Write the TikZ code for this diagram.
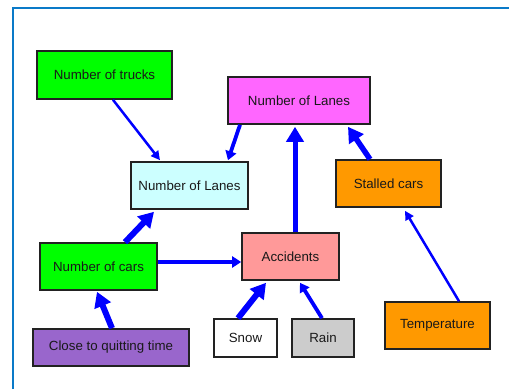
\documentclass[tikz,border=0pt]{standalone}
\usepackage{fontspec}
\setmainfont{Liberation Sans}
\usetikzlibrary{arrows.meta}
\definecolor{framec}{RGB}{10,122,200}
\definecolor{boxline}{RGB}{34,34,34}
\definecolor{cgreen}{RGB}{0,255,0}
\definecolor{cmag}{RGB}{255,102,255}
\definecolor{ccyan}{RGB}{204,255,255}
\definecolor{corange}{RGB}{255,153,0}
\definecolor{cpink}{RGB}{255,153,153}
\definecolor{cpurple}{RGB}{153,102,204}
\definecolor{cgray}{RGB}{204,204,204}
\definecolor{cblue}{RGB}{0,0,255}
\tikzset{
  box/.style={draw=boxline, line width=1.6pt, inner sep=0pt, align=center,
    font=\fontsize{13.3}{16}\selectfont, text=black!90},
  thinarr/.style={draw=cblue, line width=2.5pt, -{Triangle[length=9pt,width=9pt]}},
  medarr/.style={draw=cblue, line width=3.8pt, -{Triangle[length=9pt,width=11pt]}},
  thickarr/.style={draw=cblue, line width=6pt, -{Triangle[length=15pt,width=17pt]}},
}
\begin{document}
\begin{tikzpicture}[x=1pt,y=1pt]
\useasboundingbox (0,0) rectangle (509,389);
\draw[framec, line width=2pt] (13,0) -- (13,381) -- (509,381);

\node[box, fill=cgreen, minimum width=135pt, minimum height=48pt] (trucks) at (104.5,314) {Number of trucks};
\node[box, fill=cmag, minimum width=142pt, minimum height=47pt] (top) at (299,288.5) {Number of Lanes};
\node[box, fill=ccyan, minimum width=117pt, minimum height=47pt] (mid) at (189.5,203.5) {Number of Lanes};
\node[box, fill=corange, minimum width=105pt, minimum height=47pt] (stalled) at (388.5,205.5) {Stalled cars};
\node[box, fill=cgreen, minimum width=117pt, minimum height=47pt] (cars) at (98.5,122.5) {Number of cars};
\node[box, fill=cpink, minimum width=97pt, minimum height=47pt] (acc) at (290.5,132.5) {Accidents};
\node[box, fill=cpurple, minimum width=156pt, minimum height=37pt] (close) at (111,41.5) {Close to quitting time};
\node[box, fill=white, minimum width=63pt, minimum height=38pt] (snow) at (245.5,51) {Snow};
\node[box, fill=cgray, minimum width=62pt, minimum height=38pt] (rain) at (323,51) {Rain};
\node[box, fill=corange, minimum width=105pt, minimum height=47pt] (temp) at (437.5,63.5) {Temperature};

\draw[thinarr] ([xshift=8.5pt]trucks.south) -- ([xshift=-29.5pt,yshift=1pt]mid.north);
\draw[medarr] ([xshift=-59pt]top.south) -- ([xshift=38.5pt,yshift=1pt]mid.north);
\draw[thickarr] ([xshift=26.5pt]cars.north) -- ([xshift=-35.5pt,yshift=-2pt]mid.south);
\draw[medarr] ([yshift=4.5pt]cars.east) -- ([yshift=-5.5pt]acc.west);
\draw[thickarr, line width=5pt] ([xshift=4.5pt]acc.north) -- ([xshift=-4pt,yshift=-2pt]top.south);
\draw[thickarr, line width=5.5pt] ([xshift=-18.5pt]stalled.north) -- ([xshift=49pt,yshift=-2pt]top.south);
\draw[thinarr] ([xshift=21.5pt]temp.north) -- ([xshift=16.5pt,yshift=-3pt]stalled.south);
\draw[thickarr] ([xshift=1pt]close.north) -- ([xshift=-1.5pt,yshift=-1pt]cars.south);
\draw[thickarr] ([xshift=-7.5pt]snow.north) -- ([xshift=-24.5pt,yshift=-2pt]acc.south);
\draw[medarr] ([xshift=-1pt]rain.north) -- ([xshift=9.5pt,yshift=-2pt]acc.south);
\end{tikzpicture}
\end{document}
